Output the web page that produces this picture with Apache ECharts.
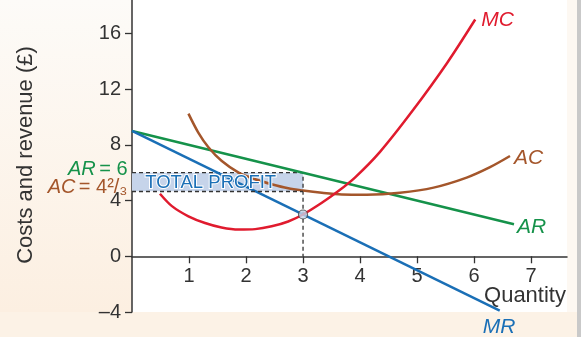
<!DOCTYPE html>
<html>
<head>
<meta charset="utf-8">
<script src="https://cdn.jsdelivr.net/npm/echarts@6/dist/echarts.min.js"></script>
<style>
  html, body { margin: 0; padding: 0; }
  #chart { width: 581px; height: 337px; }
</style>
</head>
<body>
<div id="chart"></div>
<script>
'use strict';

// quantities and curve values
var mcQ = [0.49, 0.7, 0.99, 1.28, 1.57, 1.87, 2.16, 2.45, 2.74, 3, 3.33, 3.62, 3.91, 4.35, 4.93, 5.53, 6.02];
var mcVal = [4.49, 3.6, 2.87, 2.39, 2.07, 1.92, 1.95, 2.15, 2.5, 3.0, 3.84, 4.68, 5.65, 7.5, 10.5, 13.9, 17];

var acQ = [0.99, 1.16, 1.34, 1.57, 1.87, 2.16, 2.45, 2.74, 3, 3.33, 3.68, 4.12, 4.7, 5.29, 5.87, 6.28, 6.63];
var acVal = [10.24, 8.9, 7.83, 6.86, 6.01, 5.53, 5.17, 4.88, 4.72, 4.56, 4.44, 4.42, 4.56, 4.93, 5.65, 6.4, 7.2];

var arQ = [0, 6.7];
var arVal = [9, 2.3];

var mrQ = [0, 6.45];
var mrVal = [9, -3.9];

// profit-maximising output and the profit box
var profitQ = 3;
var priceAR = 6;
var costAC = 4.667;
var mcEqualsMr = 3;

var xTicks = [1, 2, 3, 4, 5, 6, 7];
var yTicks = [-4, 0, 4, 8, 12, 16];
var yMin = -4, yMax = 18.4;

var FONT = '"Liberation Sans", Arial, sans-serif';
var RED = '#e01b2e', BROWN = '#a4562b', GREEN = '#15924a', BLUE = '#1a6fb6';

var GRID = { left: 132, right: 14, top: 0, bottom: 25 };
var gridH = 337 - GRID.top - GRID.bottom;

function pairs(xs, ys) {
    return xs.map(function (x, i) { return [x, ys[i]]; });
}

// invisible anchor used only to carry a text label
function textMark(coord, label) {
    return {
        symbol: 'circle', symbolSize: 1,
        itemStyle: { color: 'rgba(0,0,0,0)' },
        data: [{ coord: coord }],
        label: label
    };
}

var myChart = echarts.init(document.getElementById('chart'));

var option = {
    backgroundColor: '#fcf2e6',
    animation: false,
    textStyle: { fontFamily: FONT },
    grid: {
        left: GRID.left, right: GRID.right, top: GRID.top, bottom: GRID.bottom,
        show: true, backgroundColor: '#ffffff', borderWidth: 0
    },
    graphic: [
        {
            type: 'rect', z: -10,
            shape: { x: 0, y: 0, width: 132, height: 312 },
            style: {
                fill: new echarts.graphic.LinearGradient(0, 0, 0, 1, [
                    { offset: 0, color: '#fdfbf8' },
                    { offset: 1, color: '#fcefe1' }
                ])
            }
        },
        { type: 'rect', z: -10, shape: { x: 567, y: 0, width: 10, height: 312 }, style: { fill: '#fdf8f2' } },
        { type: 'rect', z: -10, shape: { x: 577, y: 0, width: 4, height: 337 }, style: { fill: '#c9c9c9' } },
        {
            type: 'text', x: 26, y: 155, rotation: Math.PI / 2,
            style: {
                text: 'Costs and revenue (£)', fill: '#333', font: '22px ' + FONT,
                align: 'center', verticalAlign: 'middle'
            }
        },
        {
            type: 'text', x: 525, y: 296,
            style: {
                text: 'Quantity', fill: '#333', font: '22px ' + FONT,
                align: 'center', verticalAlign: 'middle'
            }
        }
    ],
    xAxis: {
        type: 'value', min: 0, max: 7.63,
        // sit the axis on y = 0
        offset: -gridH * (0 - yMin) / (yMax - yMin),
        axisLine: { onZero: false, lineStyle: { color: '#333', width: 1.5 } },
        axisTick: { show: true, length: 7, lineStyle: { color: '#333', width: 1.3 }, customValues: xTicks },
        axisLabel: { color: '#333', fontSize: 20, margin: 10, customValues: xTicks },
        splitLine: { show: false }
    },
    yAxis: {
        type: 'value', min: yMin, max: yMax,
        axisLine: { show: true, onZero: false, lineStyle: { color: '#333', width: 1.5 } },
        axisTick: { show: true, length: 7, lineStyle: { color: '#333', width: 1.3 }, customValues: yTicks },
        axisLabel: {
            color: '#333', fontSize: 20, margin: 11, customValues: yTicks,
            formatter: function (v) { return v < 0 ? '\u2013' + Math.abs(v) : String(v); }
        },
        splitLine: { show: false }
    },
    series: [
        {
            name: 'profit', type: 'line', z: 1, silent: true,
            data: [[0, priceAR], [profitQ, priceAR], [profitQ, 0]],
            showSymbol: false,
            lineStyle: { color: '#333', width: 1.3, type: [4, 3] },
            markArea: {
                silent: true,
                itemStyle: { color: '#c6d4ea' },
                data: [[{ coord: [0, costAC] }, { coord: [profitQ, priceAR] }]]
            },
            markLine: {
                silent: true, symbol: ['none', 'none'],
                label: { show: false },
                lineStyle: { color: '#333', width: 1.3, type: [4, 3] },
                data: [[{ coord: [0, costAC] }, { coord: [profitQ, costAC] }]]
            }
        },
        {
            name: 'AR', type: 'line', z: 3, data: pairs(arQ, arVal), showSymbol: false,
            lineStyle: { color: GREEN, width: 2.5 },
            endLabel: { show: true, formatter: 'AR', color: GREEN, fontSize: 21, fontStyle: 'italic', offset: [-5, 3] },
            markPoint: textMark([0, priceAR], {
                show: true, position: 'left', distance: 4, offset: [0, -3],
                formatter: '{i|AR} {n|= 6}',
                rich: {
                    i: { color: GREEN, fontSize: 20, fontStyle: 'italic' },
                    n: { color: GREEN, fontSize: 20 }
                }
            })
        },
        {
            name: 'MR', type: 'line', z: 3, data: pairs(mrQ, mrVal), showSymbol: false,
            lineStyle: { color: BLUE, width: 2.5 },
            endLabel: { show: true, formatter: 'MR', color: BLUE, fontSize: 21, fontStyle: 'italic', offset: [-25, 17] }
        },
        {
            name: 'AC', type: 'line', z: 3, data: pairs(acQ, acVal), showSymbol: false, smooth: 0.3,
            lineStyle: { color: BROWN, width: 2.5 },
            endLabel: { show: true, formatter: 'AC', color: BROWN, fontSize: 21, fontStyle: 'italic', offset: [-4, 2] }
        },
        {
            name: 'MC', type: 'line', z: 3, data: pairs(mcQ, mcVal), showSymbol: false, smooth: 0.3,
            lineStyle: { color: RED, width: 2.5 },
            endLabel: { show: true, formatter: 'MC', color: RED, fontSize: 21, fontStyle: 'italic', offset: [-2, 1] }
        },
        {
            name: 'point', type: 'scatter', z: 6,
            data: [[profitQ, mcEqualsMr]],
            symbolSize: 9,
            itemStyle: { color: '#c6d4ea', borderColor: '#444', borderWidth: 1.2 },
            markPoint: textMark([profitQ / 2 - 0.12, (priceAR + costAC) / 2], {
                show: true, position: 'inside', offset: [0, 1], formatter: 'TOTAL PROFIT',
                color: BLUE, fontSize: 18.5, textBorderColor: '#fff', textBorderWidth: 2
            })
        },
        {
            name: 'acLevel', type: 'scatter', z: 6, silent: true,
            data: [],
            markPoint: textMark([0, costAC], {
                show: true, position: 'left', distance: 4, offset: [0, -4],
                formatter: '{i|AC} {n|= 4\u00b2/\u2083}',
                rich: {
                    i: { color: BROWN, fontSize: 20, fontStyle: 'italic' },
                    n: { color: BROWN, fontSize: 20 }
                }
            })
        }
    ]
};

myChart.setOption(option);
</script>
</body>
</html>
